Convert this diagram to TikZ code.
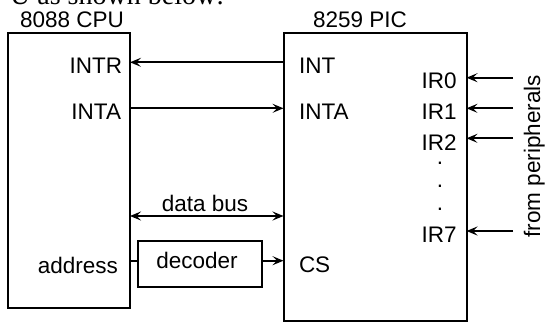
\documentclass[tikz,border=0pt]{standalone}
\usepackage{fontspec}
\setmainfont{Liberation Sans}
\newfontfamily\docserif{Liberation Serif}
\usetikzlibrary{arrows.meta}
\begin{document}
\begin{tikzpicture}[x=1pt,y=-1pt,
  lw/.style={line width=2pt},
  box/.style={draw,lw,rectangle,inner sep=0pt,outer sep=0pt,anchor=north west},
  lbl/.style={inner sep=0pt,outer sep=0pt,font=\fontsize{22.5}{26}\selectfont},
  tip/.style={Stealth[length=11pt,width=9pt,inset=4.5pt]},
  arr/.style={lw,-{Stealth[length=11pt,width=9pt,inset=4.5pt]}},
  darr/.style={lw,{Stealth[length=11pt,width=9pt,inset=4.5pt]}-{Stealth[length=11pt,width=9pt,inset=4.5pt]}}]
\useasboundingbox (0,0) rectangle (547,322);
% cut-off line of surrounding text
\begin{scope}
\clip (0,0) rectangle (547,322);
\node[inner sep=0pt,anchor=base west,font=\docserif\fontsize{28}{32}\selectfont] (topline) at (10,4.5) {U as shown below:};
\end{scope}
% boxes
\node[box,minimum width=122.5pt,minimum height=274.5pt] (cpu) at (7.5,33) {};
\node[box,minimum width=183pt,minimum height=287.5pt] (pic) at (283.5,33) {};
\node[box,minimum width=124pt,minimum height=46pt] (dec) at (138,241) {};
% titles
\node[lbl,anchor=base] (cputitle) at (72,27.5) {8088 CPU};
\node[lbl,anchor=base] (pictitle) at (360,27.5) {8259 PIC};
% CPU labels
\node[lbl,anchor=base east] (intr) at (122,73) {INTR};
\node[lbl,anchor=base east] (intacpu) at (121,119) {INTA};
\node[lbl,anchor=base east] (address) at (118,273) {address};
% PIC labels
\node[lbl,anchor=base west] (int) at (299,73) {INT};
\node[lbl,anchor=base west] (intapic) at (299,119) {INTA};
\node[lbl,anchor=base west] (cs) at (299,272) {CS};
\node[lbl,anchor=base west] (ir0) at (421.5,88) {IR0};
\node[lbl,anchor=base west] (ir1) at (421.5,119) {IR1};
\node[lbl,anchor=base west] (ir2) at (421.5,150) {IR2};
\node[lbl,anchor=base west] (ir7) at (421.5,242) {IR7};
\node[lbl,anchor=base] (dot1) at (440,164.8) {.};
\node[lbl,anchor=base] (dot2) at (440,187) {.};
\node[lbl,anchor=base] (dot3) at (440,210.5) {.};
% other labels
\node[lbl,anchor=base] (databus) at (205,211.7) {data bus};
\node[lbl,anchor=base] (decoder) at (197,268) {decoder};
\node[lbl,anchor=base,rotate=90] (periph) at (540,156) {from peripherals};
% connector levels
\coordinate (yINT) at (0,62.3);
\coordinate (yINTA) at (0,108.3);
\coordinate (yBUS) at (0,216);
\coordinate (yCS) at (0,260.7);
\coordinate (p0) at (513,77.7);
\coordinate (p1) at (513,108.3);
\coordinate (p2) at (513,138.3);
\coordinate (p7) at (513,231);
% connectors
\draw[arr] (pic.west |- yINT) -- (cpu.east |- yINT);
\draw[arr] (cpu.east |- yINTA) -- (pic.west |- yINTA);
\draw[darr] (cpu.east |- yBUS) -- (pic.west |- yBUS);
\draw[lw] (cpu.east |- yCS) -- (dec.west |- yCS);
\draw[arr] (dec.east |- yCS) -- (pic.west |- yCS);
\draw[arr] (p0) -- (pic.east |- p0);
\draw[arr] (p1) -- (pic.east |- p1);
\draw[arr] (p2) -- (pic.east |- p2);
\draw[arr] (p7) -- (pic.east |- p7);
\end{tikzpicture}
\end{document}
